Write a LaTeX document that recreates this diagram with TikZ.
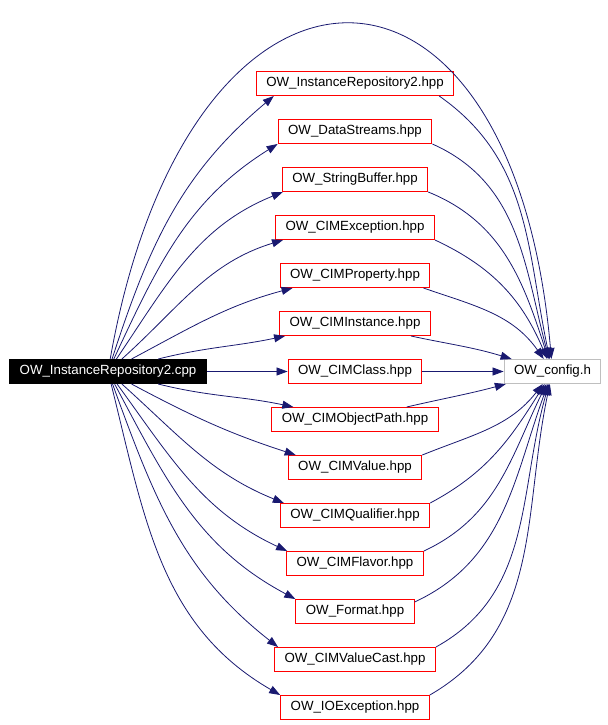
\documentclass[tikz,border=0pt]{standalone}
\usepackage{fontspec}
\setmainfont{Liberation Sans}
\usepackage{tikz}
\usetikzlibrary{positioning}
\usetikzlibrary{arrows.meta}
\definecolor{edgeblue}{HTML}{191970}
\definecolor{boxred}{HTML}{FF0000}

\begin{document}
\begin{tikzpicture}[x=1bp, y=-1bp, node distance={48bp},
    main/.style = {draw=boxred, line width=1bp, minimum height=24bp, inner xsep=10bp, inner ysep=0bp, font=\fontsize{13.3bp}{16bp}\selectfont},
    root/.style = {main, draw=black, fill=black, text=white},
    leaf/.style = {main, draw=gray!50},
    dep/.style = {draw=edgeblue, line width=0.8bp, -{Triangle[length=11bp, width=8bp]}}]
    \useasboundingbox (0,0) rectangle (608,725);
    \node[main] (IR2) at (355,83.5) {OW\_InstanceRepository2.hpp};
    \node[main] (DS) [below of=IR2] {OW\_DataStreams.hpp};
    \node[main] (SB) [below of=DS] {OW\_StringBuffer.hpp};
    \node[main] (CEX) [below of=SB] {OW\_CIMException.hpp};
    \node[main] (CPR) [below of=CEX] {OW\_CIMProperty.hpp};
    \node[main] (CIN) [below of=CPR] {OW\_CIMInstance.hpp};
    \node[main] (CCL) [below of=CIN] {OW\_CIMClass.hpp};
    \node[main] (COP) [below of=CCL] {OW\_CIMObjectPath.hpp};
    \node[main] (CVA) [below of=COP] {OW\_CIMValue.hpp};
    \node[main] (CQU) [below of=CVA] {OW\_CIMQualifier.hpp};
    \node[main] (CFL) [below of=CQU] {OW\_CIMFlavor.hpp};
    \node[main] (FMT) [below of=CFL] {OW\_Format.hpp};
    \node[main] (CVC) [below of=FMT] {OW\_CIMValueCast.hpp};
    \node[main] (IOE) [below of=CVC] {OW\_IOException.hpp};
    \node[root, node distance=247bp] (SRC) [left of=CCL] {OW\_InstanceRepository2.cpp};
    \node[leaf, node distance=197.5bp] (CFG) [right of=CCL] {OW\_config.h};
    % includes of the .cpp
    \draw[dep] (SRC) to[out=80, in=95, looseness=2.62] (CFG);
    \draw[dep] (SRC) to[out=72, in=220] ([xshift=18bp]IR2.south west);
    \draw[dep] (SRC) to[out=65, in=212] (DS.south west);
    \draw[dep] (SRC) to[out=56, in=202] ([xshift=1bp]SB.south west);
    \draw[dep] (SRC) to[out=42, in=197] ([xshift=8bp]CEX.south west);
    \draw[dep] (SRC) to[out=28, in=195] ([xshift=13bp]CPR.south west);
    \draw[dep] (SRC) to[out=14, in=192] ([xshift=6bp]CIN.south west);
    \draw[dep] (SRC) -- (CCL);
    \draw[dep] (SRC) to[out=-14, in=168] ([xshift=22bp]COP.north west);
    \draw[dep] (SRC) to[out=-28, in=162] ([xshift=8bp]CVA.north west);
    \draw[dep] (SRC) to[out=-42, in=158] ([xshift=4bp]CQU.north west);
    \draw[dep] (SRC) to[out=-54, in=155] ([xshift=1bp]CFL.north west);
    \draw[dep] (SRC) to[out=-62, in=152] (FMT.north west);
    \draw[dep] (SRC) to[out=-70, in=142] ([xshift=4bp]CVC.north west);
    \draw[dep] (SRC) to[out=-76, in=150] (IOE.north west);
    % includes of the headers
    \draw[dep] ([xshift=-15bp]IR2.south east) to[out=-35, in=102] (CFG);
    \draw[dep] (DS.south east) to[out=-24, in=105] (CFG);
    \draw[dep] (SB.south east) to[out=-22, in=108] (CFG);
    \draw[dep] (CEX.south east) to[out=-25, in=113] (CFG);
    \draw[dep] ([xshift=-7bp]CPR.south east) to[out=-19, in=125] (CFG);
    \draw[dep] ([xshift=-20bp]CIN.south east) to[out=-12, in=163] (CFG);
    \draw[dep] (CCL) -- (CFG);
    \draw[dep] ([xshift=-32bp]COP.north east) to[out=13, in=195] (CFG);
    \draw[dep] (CVA.north east) to[out=22, in=232] (CFG);
    \draw[dep] (CQU.north east) to[out=28, in=238] (CFG);
    \draw[dep] (CFL.north east) to[out=25, in=244] (CFG);
    \draw[dep] ([yshift=-3bp]FMT.north east) to[out=25, in=250] (CFG);
    \draw[dep] (CVC.north east) to[out=29, in=254] (CFG);
    \draw[dep] (IOE.north east) to[out=30, in=258] (CFG);
\end{tikzpicture}
\end{document}
